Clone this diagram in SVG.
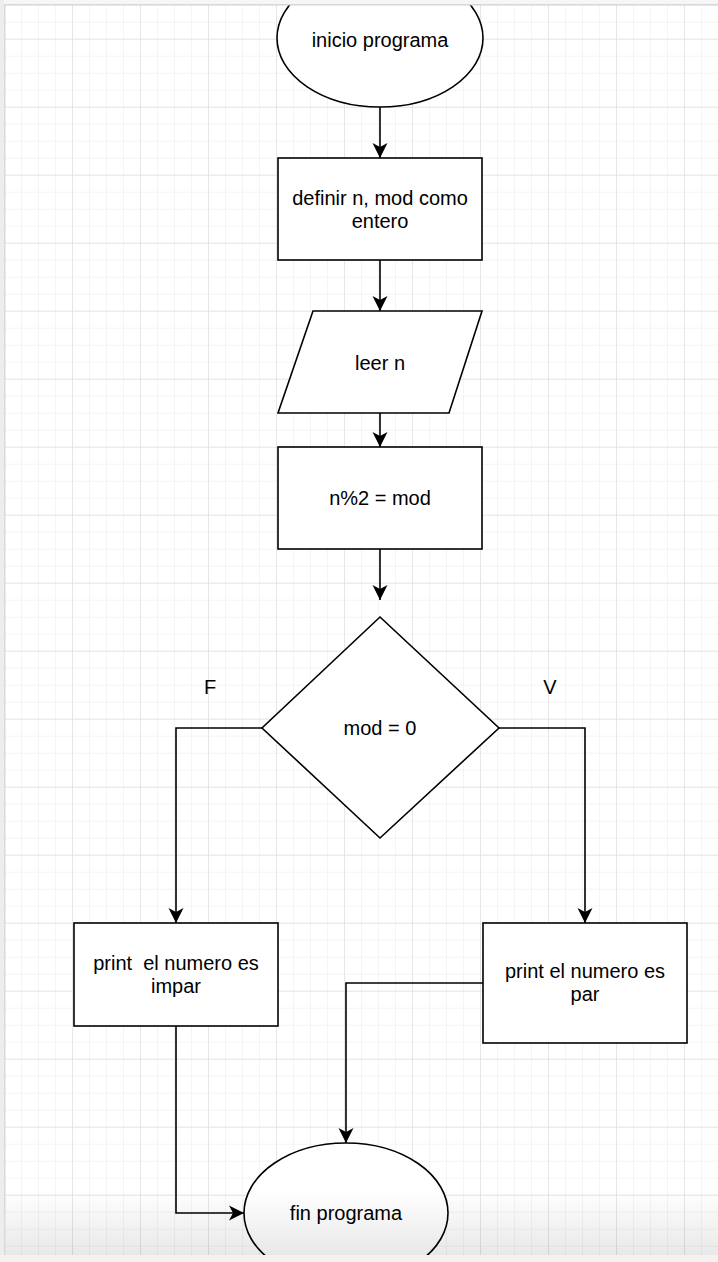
<svg xmlns="http://www.w3.org/2000/svg" width="718" height="1262" viewBox="0 0 718 1262">
  <style>
    .shape { fill: #ffffff; stroke: #000000; stroke-width: 1.6; }
    .edge { fill: none; stroke: #000000; stroke-width: 1.6; }
    .label { font-family: "Liberation Sans", Arial, Helvetica, sans-serif; font-size: 20px; fill: #000000; text-anchor: middle; }
  </style>
  <defs>
    <!-- canvas grid: fine cells of 17px, heavier lines every 68px -->
    <pattern id="gridMinor" patternUnits="userSpaceOnUse" x="4" y="4.7" width="17" height="17">
      <path d="M0 0 V17 M0 0 H17" fill="none" stroke="#f1f1f1" stroke-width="1.6"/>
    </pattern>
    <pattern id="gridMajor" patternUnits="userSpaceOnUse" x="4" y="38.7" width="68" height="68">
      <path d="M0 0 V68 M0 0 H68" fill="none" stroke="#e2e2e2" stroke-width="1.5"/>
    </pattern>
    <linearGradient id="bottomShade" x1="0" y1="0" x2="0" y2="1">
      <stop offset="0" stop-color="#000000" stop-opacity="0"/>
      <stop offset="1" stop-color="#000000" stop-opacity="0.09"/>
    </linearGradient>
    <marker id="arrow" markerUnits="userSpaceOnUse" viewBox="0 0 16 16" refX="15" refY="8" markerWidth="16" markerHeight="16" orient="auto">
      <path d="M15 8 L0 0.5 L4 8 L0 15.5 Z" fill="#000000"/>
    </marker>
  </defs>

  <!-- background and grid -->
  <rect x="0" y="0" width="718" height="1262" fill="#ffffff"/>
  <rect x="0" y="0" width="718" height="1262" fill="url(#gridMinor)"/>
  <rect x="0" y="0" width="718" height="1262" fill="url(#gridMajor)"/>

  <!-- connectors -->
  <g id="connectors">
    <path class="edge" d="M380 107 V158" marker-end="url(#arrow)"/>
    <path class="edge" d="M380 260 V311" marker-end="url(#arrow)"/>
    <path class="edge" d="M380 413 V447" marker-end="url(#arrow)"/>
    <path class="edge" d="M380 549 V600" marker-end="url(#arrow)"/>
    <path class="edge" d="M262 728 H176 V923" marker-end="url(#arrow)"/>
    <path class="edge" d="M499 728 H585 V923" marker-end="url(#arrow)"/>
    <path class="edge" d="M483 983 H346 V1143" marker-end="url(#arrow)"/>
    <path class="edge" d="M176 1026 V1213 H244" marker-end="url(#arrow)"/>
    <text class="label" x="210" y="694">F</text>
    <text class="label" x="550" y="694">V</text>
  </g>

  <g id="start">
    <ellipse class="shape" cx="380" cy="38" rx="103" ry="69"/>
    <text class="label" x="380" y="47">inicio programa</text>
  </g>

  <g id="declare">
    <rect class="shape" x="278" y="158" width="204" height="102"/>
    <text class="label" x="380" y="205">definir n, mod como</text>
    <text class="label" x="380" y="228">entero</text>
  </g>

  <g id="read">
    <polygon class="shape" points="313,311 482,311 449,413 278,413"/>
    <text class="label" x="380" y="370">leer n</text>
  </g>

  <g id="compute">
    <rect class="shape" x="278" y="447" width="204" height="102"/>
    <text class="label" x="380" y="505">n%2 = mod</text>
  </g>

  <g id="decision">
    <polygon class="shape" points="380,617 499,728 380,838 262,728"/>
    <text class="label" x="380" y="735">mod = 0</text>
  </g>

  <g id="odd">
    <rect class="shape" x="74" y="923" width="204" height="103"/>
    <text class="label" x="176" y="970" xml:space="preserve">print  el numero es</text>
    <text class="label" x="176" y="993">impar</text>
  </g>

  <g id="even">
    <rect class="shape" x="483" y="923" width="204" height="120"/>
    <text class="label" x="585" y="978">print el numero es</text>
    <text class="label" x="585" y="1001">par</text>
  </g>

  <g id="end">
    <ellipse class="shape" cx="346" cy="1213" rx="102" ry="70"/>
    <text class="label" x="346" y="1220">fin programa</text>
  </g>

  <!-- window frame: shading toward the bottom edge, top and left borders -->
  <rect x="0" y="1190" width="718" height="65" fill="url(#bottomShade)"/>
  <rect x="0" y="1255" width="718" height="7" fill="#f5f1f3"/>
  <rect x="0" y="0" width="718" height="4" fill="#f6f6f6"/>
  <rect x="0" y="4" width="718" height="1.5" fill="#d8d8dc"/>
  <rect x="0" y="0" width="4" height="1255" fill="#ededed"/>
  <rect x="4" y="4" width="1.5" height="1251" fill="#d9d9d9"/>
</svg>
